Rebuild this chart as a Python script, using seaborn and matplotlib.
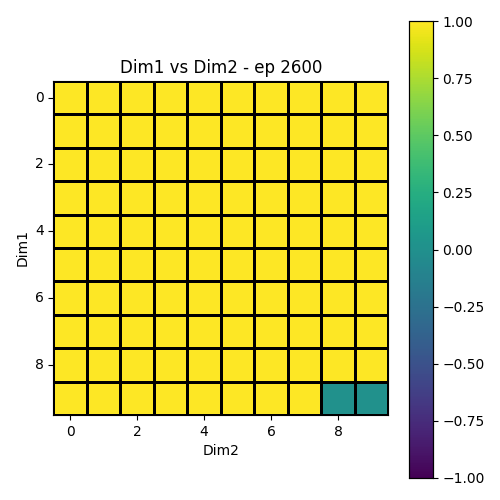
import numpy as np
import pandas as pd
import matplotlib
matplotlib.use("Agg")
import matplotlib.pyplot as plt
import seaborn as sns

n_dim1 = 10
n_dim2 = 10
# values: all 1.0 except last row, cols 8 and 9 which are 0.0
row_values = [
    [1, 1, 1, 1, 1, 1, 1, 1, 1, 1],
    [1, 1, 1, 1, 1, 1, 1, 1, 1, 1],
    [1, 1, 1, 1, 1, 1, 1, 1, 1, 1],
    [1, 1, 1, 1, 1, 1, 1, 1, 1, 1],
    [1, 1, 1, 1, 1, 1, 1, 1, 1, 1],
    [1, 1, 1, 1, 1, 1, 1, 1, 1, 1],
    [1, 1, 1, 1, 1, 1, 1, 1, 1, 1],
    [1, 1, 1, 1, 1, 1, 1, 1, 1, 1],
    [1, 1, 1, 1, 1, 1, 1, 1, 1, 1],
    [1, 1, 1, 1, 1, 1, 1, 1, 0, 0],
]
tick_labels = [0, 2, 4, 6, 8]
title = "Dim1 vs Dim2 - ep 2600"

data = pd.DataFrame(np.array(row_values, dtype=float))

fig = plt.figure(figsize=(5, 5), dpi=100)
ax = fig.add_axes([0.1066, 0.17, 0.67, 0.668])
cax = fig.add_axes([0.8186, 0.0446, 0.0468, 0.9128])

sns.heatmap(data, ax=ax, cbar_ax=cax, cmap="viridis", vmin=-1, vmax=1,
            linewidths=2, linecolor="black", square=False)

ax.set_xticks([t + 0.5 for t in tick_labels])
ax.set_xticklabels([str(t) for t in tick_labels], rotation=0)
ax.set_yticks([t + 0.5 for t in tick_labels])
ax.set_yticklabels([str(t) for t in tick_labels], rotation=0)
ax.tick_params(length=3.5, width=0.8, labelsize=10)
for s in ax.spines.values():
    s.set_visible(True)
    s.set_linewidth(0.8)
ax.set_xlabel("Dim2")
ax.set_ylabel("Dim1")
ax.set_title(title, fontsize=12)

cax.set_yticks([-1, -0.75, -0.5, -0.25, 0, 0.25, 0.5, 0.75, 1])
cax.set_yticklabels([f"{v:.2f}".replace("-", "\u2212") for v in [-1, -0.75, -0.5, -0.25, 0, 0.25, 0.5, 0.75, 1]])
cax.tick_params(length=3.5, width=0.8, labelsize=10)
for s in cax.spines.values():
    s.set_visible(True)
    s.set_linewidth(0.8)

fig.savefig("out.png", dpi=100)
